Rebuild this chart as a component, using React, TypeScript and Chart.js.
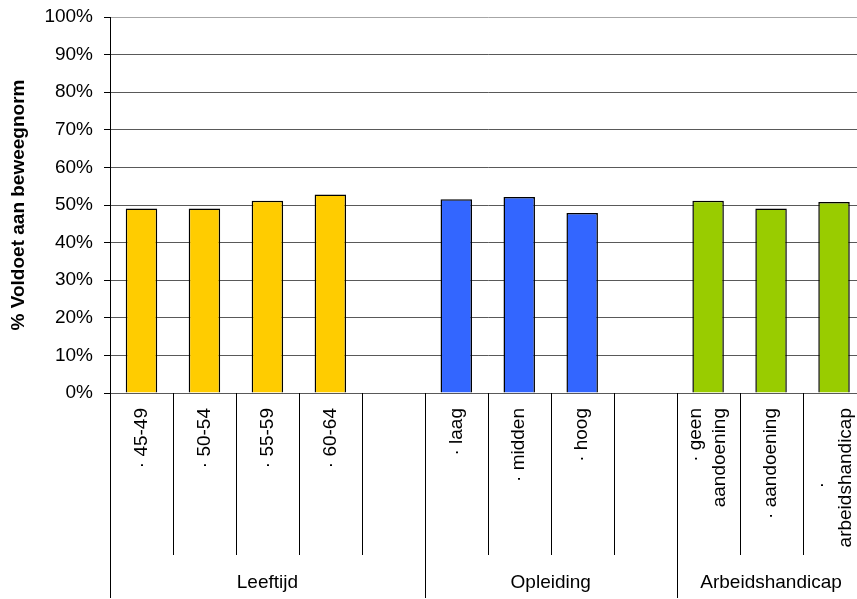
import { useEffect, useRef } from "react";
import { Chart, registerables } from "chart.js";

Chart.register(...registerables);

// Category labels (one entry per slot; empty slots separate the groups)
const categoryLines: string[][] = [
  ["· 45-49"],
  ["· 50-54"],
  ["· 55-59"],
  ["· 60-64"],
  [],
  ["· laag"],
  ["· midden"],
  ["· hoog"],
  [],
  ["· geen", "aandoening"],
  ["· aandoening"],
  ["·\u00a0\u00a0\u00a0\u00a0\u00a0\u00a0\u00a0\u00a0\u00a0\u00a0\u00a0\u00a0\u00a0\u00a0", "arbeidshandicap"],
];

// Percentage meeting the activity norm
const values: (number | null)[] = [49.1, 49.1, 51.1, 52.8, null, 51.5, 52.1, 47.9, null, 51.1, 49.1, 50.8];

const barColors: string[] = [
  "#FFCC00", "#FFCC00", "#FFCC00", "#FFCC00", "#FFFFFF",
  "#3366FF", "#3366FF", "#3366FF", "#FFFFFF",
  "#99CC00", "#99CC00", "#99CC00",
];

// Group headers and the slot index each group starts at
const groupLabels: string[] = ["Leeftijd", "Opleiding", "Arbeidshandicap"];
const groupStarts: number[] = [0, 5, 9];

const yTitle = "% Voldoet aan beweegnorm";
const yMin = 0;
const yMax = 100;
const yStep = 10;

const FONT = "'Liberation Sans', Arial, sans-serif";
const CANVAS_W = 870;
const CANVAS_H = 599;

const multiLevelAxis = {
  id: "multiLevelAxis",
  afterDraw(chart: Chart) {
    const { ctx, chartArea } = chart;
    const { left, right, top, bottom } = chartArea;
    const n = categoryLines.length;
    const w = (right - left) / n;
    const innerEnd = 555;
    const outerEnd = CANVAS_H - 1;
    const crisp = (v: number) => Math.round(v) + 0.5;

    ctx.save();
    ctx.strokeStyle = "#000";
    ctx.lineWidth = 1;
    ctx.beginPath();
    // left axis continues through the label rows
    ctx.moveTo(crisp(left), bottom);
    ctx.lineTo(crisp(left), outerEnd);
    for (let i = 1; i <= n; i++) {
      const x = crisp(left + i * w);
      const isGroupEdge = groupStarts.includes(i) || i === n;
      ctx.moveTo(x, bottom);
      ctx.lineTo(x, isGroupEdge ? outerEnd : innerEnd);
    }
    ctx.stroke();

    // rotated category labels, anchored at the top
    ctx.fillStyle = "#000";
    ctx.font = `19px ${FONT}`;
    ctx.textBaseline = "middle";
    ctx.textAlign = "right";
    const lineGap = 24;
    categoryLines.forEach((lines, i) => {
      if (!lines.length) return;
      const cx = left + (i + 0.5) * w;
      const first = cx - ((lines.length - 1) * lineGap) / 2;
      lines.forEach((line, j) => {
        ctx.save();
        ctx.translate(first + j * lineGap, 408);
        ctx.rotate(-Math.PI / 2);
        ctx.fillText(line, 0, 0);
        ctx.restore();
      });
    });

    // group headers
    ctx.textAlign = "center";
    groupLabels.forEach((label, g) => {
      const start = left + groupStarts[g] * w;
      const end = g + 1 < groupStarts.length ? left + groupStarts[g + 1] * w : right;
      ctx.fillText(label, (start + end) / 2, 583);
    });

    // value axis title
    ctx.font = `bold 19px ${FONT}`;
    ctx.save();
    ctx.translate(19, (top + bottom) / 2);
    ctx.rotate(-Math.PI / 2);
    ctx.fillText(yTitle, 0, 0);
    ctx.restore();

    ctx.restore();
  },
};

function BarChart() {
  const canvasRef = useRef<HTMLCanvasElement | null>(null);

  useEffect(() => {
    const canvas = canvasRef.current;
    if (!canvas) return;
    const chart = new Chart(canvas, {
      type: "bar",
      data: {
        labels: categoryLines.map((l) => l.join(" ")),
        datasets: [
          {
            data: values,
            backgroundColor: barColors,
            borderColor: "#000",
            borderWidth: 1.5,
            barPercentage: 0.5,
            categoryPercentage: 1,
          },
        ],
      },
      options: {
        animation: false,
        responsive: false,
        devicePixelRatio: 1,
        layout: { padding: { top: 17, right: CANVAS_W - 865.5, left: 0, bottom: 0 } },
        plugins: { legend: { display: false }, tooltip: { enabled: false } },
        scales: {
          x: {
            ticks: { display: false },
            grid: { display: false },
            border: { display: false },
            afterFit: (s: any) => {
              s.height = 206;
              s.paddingLeft = 0;
              s.paddingRight = 0;
            },
          },
          y: {
            min: yMin,
            max: yMax,
            ticks: {
              stepSize: yStep,
              color: "#000",
              padding: 11,
              font: { family: FONT, size: 19 },
              callback: (v: any) => `${v}%`,
            },
            grid: {
              color: (c: any) => (c.tick && c.tick.value === yMax ? "#a6a6a6" : "#595959"),
              tickColor: "#000",
              tickLength: 6,
              lineWidth: 1,
            },
            border: { display: true, color: "#000", width: 1 },
            afterFit: (s: any) => {
              s.width = 110;
              s.paddingTop = 0;
              s.paddingBottom = 0;
            },
          },
        },
      },
      plugins: [multiLevelAxis],
    });
    return () => chart.destroy();
  }, []);

  return <canvas ref={canvasRef} width={CANVAS_W} height={CANVAS_H} style={{ display: "block" }} />;
}

export default function App() {
  return (
    <div
      style={{
        position: "absolute",
        left: 0,
        top: 0,
        width: 857,
        height: 599,
        overflow: "hidden",
        background: "#fff",
      }}
    >
      <BarChart />
    </div>
  );
}
